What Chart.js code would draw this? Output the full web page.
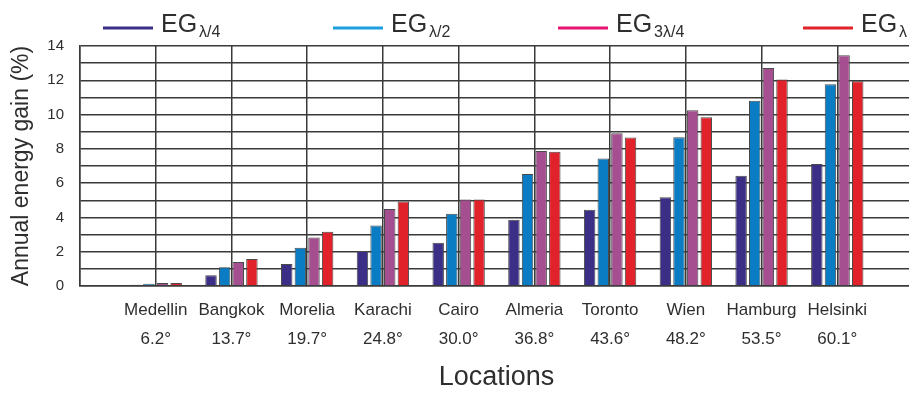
<!DOCTYPE html>
<html>
<head>
<meta charset="utf-8">
<title>Annual energy gain by location</title>
<script src="https://cdn.jsdelivr.net/npm/chart.js@4/dist/chart.umd.min.js"></script>
<style>
  html, body { margin: 0; padding: 0; background: #ffffff; overflow: hidden; }
  #wrap { width: 930px; height: 395px; }
</style>
</head>
<body>
<div id="wrap"><canvas id="chart" width="930" height="395"></canvas></div>
<script>
// Locations and their latitudes
const locations = ['Medellin', 'Bangkok', 'Morelia', 'Karachi', 'Cairo', 'Almeria', 'Toronto', 'Wien', 'Hamburg', 'Helsinki'];
const latitudes = ['6.2°', '13.7°', '19.7°', '24.8°', '30.0°', '36.8°', '43.6°', '48.2°', '53.5°', '60.1°'];

// Annual energy gain (%) per configuration
const egQuarter      = [0.08, 0.63, 1.28, 2.04, 2.52, 3.86, 4.45, 5.18, 6.43, 7.11];
const egHalf         = [0.13, 1.09, 2.23, 3.53, 4.21, 6.54, 7.44, 8.68, 10.80, 11.77];
const egThreeQuarter = [0.17, 1.40, 2.83, 4.49, 5.05, 7.88, 8.91, 10.25, 12.72, 13.46];
const egFull         = [0.17, 1.57, 3.17, 4.93, 5.05, 7.83, 8.66, 9.84, 12.04, 11.94];

// Series names: "EG" with a subscript
const seriesBase = 'EG';
const seriesSubscripts = ['λ/4', 'λ/2', '3λ/4', 'λ'];

// Y axis range and labelled tick values
const yMin = 0, yMax = 14;
const yTickLabels = [0, 2, 4, 6, 8, 10, 12, 14];

const barColors    = ['#3b2e86', '#0a7cc4', '#a54f91', '#e1222a'];
const legendColors = ['#3b2e86', '#1b9de0', '#e5156f', '#e1222a'];
const FONT = "'Liberation Sans', Arial, Helvetica, sans-serif";
const TEXT = '#2e2e2e';
const GRID = '#3a3a3a';

const seriesValues = [egQuarter, egHalf, egThreeQuarter, egFull];

const datasets = seriesValues.map((vals, s) => ({
  label: seriesBase + seriesSubscripts[s],
  data: vals.map((v, i) => ({ x: i, y: v })),
  backgroundColor: barColors[s],
  borderColor: '#4a4a4a',
  borderWidth: 1,
  barPercentage: 0.84,
  categoryPercentage: 0.72
}));

// Legend: a short line followed by "EG" and a subscript
const subscriptLegend = {
  id: 'subscriptLegend',
  afterDraw(chart) {
    const ctx = chart.ctx;
    const starts = [103, 333, 558, 803];
    const lineY = 28, lineLen = 50, baseY = 32;
    ctx.save();
    seriesSubscripts.forEach((sub, i) => {
      const x0 = starts[i];
      ctx.strokeStyle = legendColors[i];
      ctx.lineWidth = 3;
      ctx.beginPath();
      ctx.moveTo(x0, lineY);
      ctx.lineTo(x0 + lineLen, lineY);
      ctx.stroke();

      ctx.fillStyle = TEXT;
      ctx.textBaseline = 'alphabetic';
      ctx.textAlign = 'left';
      ctx.font = '25px ' + FONT;
      const tx = x0 + lineLen + 8;
      ctx.fillText(seriesBase, tx, baseY);
      const w = ctx.measureText(seriesBase).width;
      ctx.font = '16px ' + FONT;
      ctx.fillText(sub, tx + w + 2, baseY + 5);
    });
    ctx.restore();
  }
};

new Chart(document.getElementById('chart'), {
  type: 'bar',
  data: { datasets },
  options: {
    responsive: false,
    devicePixelRatio: 1,
    animation: false,
    layout: { padding: { top: 46, right: 17, bottom: 0, left: 0 } },
    plugins: {
      legend: { display: false },
      tooltip: { enabled: false }
    },
    scales: {
      x: {
        type: 'linear',
        offset: false,
        min: -1,
        max: locations.length,
        afterFit(scale) { scale.height = 109; },
        grid: { color: GRID, lineWidth: 1.5, drawTicks: false, offset: false },
        border: { color: GRID, width: 1.5 },
        ticks: {
          stepSize: 1,
          autoSkip: false,
          maxRotation: 0,
          padding: 10,
          color: TEXT,
          font: { family: FONT, size: 17, lineHeight: 1.7 },
          callback(value) {
            if (Number.isInteger(value) && value >= 0 && value < locations.length) {
              return [locations[value], latitudes[value]];
            }
            return '';
          }
        },
        title: {
          display: true,
          text: 'Locations',
          color: TEXT,
          font: { family: FONT, size: 27, lineHeight: 1.2 },
          padding: { top: 0, bottom: 1 }
        }
      },
      y: {
        min: yMin,
        max: yMax,
        afterFit(scale) { scale.width = 80; },
        grid: { color: GRID, lineWidth: 1.5, drawTicks: false },
        border: { color: GRID, width: 1.5 },
        ticks: {
          stepSize: 1,
          autoSkip: false,
          padding: 16,
          color: TEXT,
          font: { family: FONT, size: 15 },
          callback(value) {
            return yTickLabels.includes(value) ? String(value) : '';
          }
        },
        title: {
          display: true,
          text: 'Annual energy gain (%)',
          color: TEXT,
          font: { family: FONT, size: 23, lineHeight: 1.2 },
          padding: { top: 8, bottom: 0 }
        }
      }
    }
  },
  plugins: [subscriptLegend]
});
</script>
</body>
</html>
